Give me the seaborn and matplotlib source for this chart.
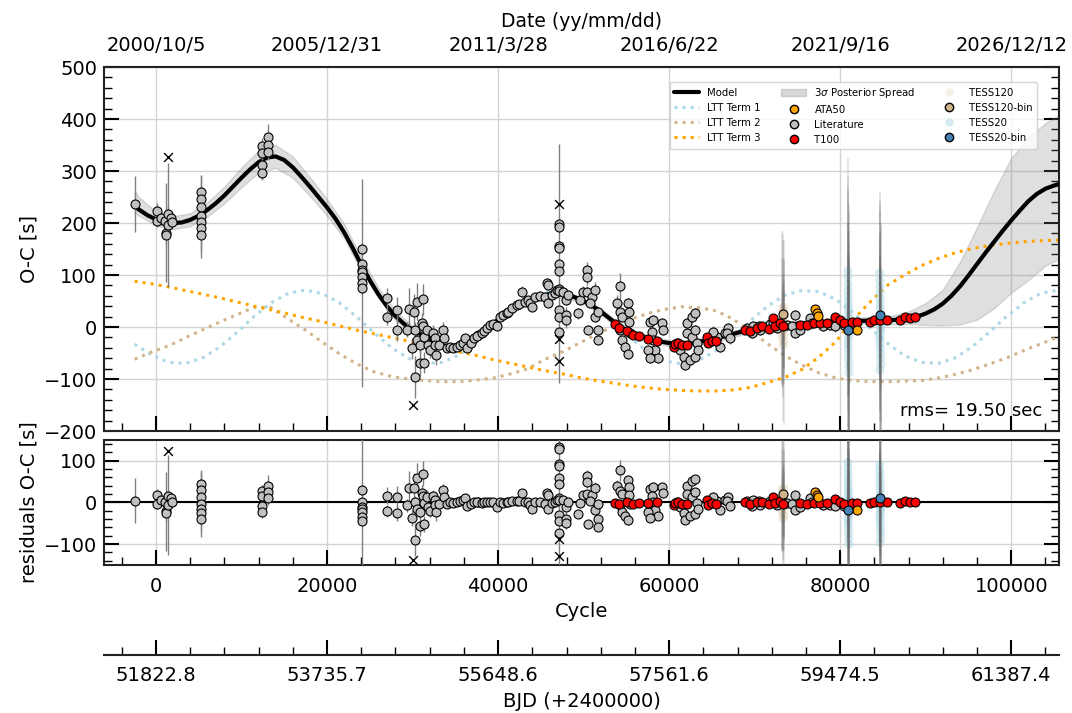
import numpy as np
import seaborn as sns
import matplotlib.pyplot as plt
from matplotlib.lines import Line2D
from matplotlib.patches import Patch
from matplotlib.ticker import MultipleLocator

# ---------------- data ----------------
cycle_ticks = [0, 20000, 40000, 60000, 80000, 100000]
date_labels = ["2000/10/5", "2005/12/31", "2011/3/28", "2016/6/22", "2021/9/16", "2026/12/12"]
bjd_labels = ["51822.8", "53735.7", "55648.6", "57561.6", "59474.5", "61387.4"]

# model curve
model_cycle = [-2500] + list(range(-2000, 105001, 1000)) + [105600]
model_oc = [232, 226, 215, 207, 202, 200, 201, 206, 214, 225, 238, 253, 270, 287, 303, 317,
            326, 328, 321, 307, 289, 270, 250, 230, 208, 182, 152, 120, 90, 63, 40, 21, 6,
            -5, -14, -23, -31, -38, -40, -34, -24, -12, 1, 14, 26, 37, 47, 55, 60, 63, 64,
            62, 57, 50, 41, 30, 17, 4, -6, -13, -19, -24, -28, -31, -32, -32, -30, -27, -24,
            -20, -15, -11, -7, -3, 0, 3, 4, 5, 6, 7, 8, 9, 10, 11, 12, 12, 12, 13, 13, 13,
            15, 17, 20, 26, 34, 45, 60, 78, 99, 121, 143, 164, 185, 205, 224, 242, 256, 266,
            272, 275]

# 3 sigma posterior spread
band_cycle = [-2500, -2000] + list(range(0, 104001, 2000)) + [105600]
band_lo = [220, 214, 195, 188, 194, 212, 238, 269, 297, 306, 287, 252, 214, 170, 108, 56,
           13, -12, -30, -44, -40, -18, 8, 31, 49, 57, 56, 44, 24, -2, -19, -30, -37, -38,
           -33, -26, -17, -9, -4, -1, 1, 3, 5, 6, 6, 5, 6, 4, 3, 5, 14, 36, 66, 90, 118, 131]
band_hi = [262, 250, 222, 213, 219, 240, 270, 307, 339, 350, 328, 288, 246, 198, 134, 76,
           31, 2, -16, -32, -28, -6, 20, 43, 61, 69, 68, 56, 36, 10, -7, -18, -25, -26,
           -21, -14, -5, 3, 8, 11, 13, 15, 17, 18, 20, 22, 30, 46, 72, 125, 192, 262, 325,
           365, 392, 408]

# LTT terms
ltt_cycle = list(range(-2500, 105501, 2000))
ltt1 = [-33, -54, -68, -70, -59, -38, -10, 21, 47, 65, 71, 64, 46, 19, -11, -39, -60, -70,
        -68, -53, -29, 1, 31, 54, 68, 70, 59, 37, 9, -21, -48, -65, -71, -64, -45, -19, 12,
        40, 61, 70, 68, 53, 28, -2, -31, -55, -68, -70, -59, -37, -9, 21, 47, 65, 71]
ltt2 = [-62, -48, -36, -20, -5, 10, 24, 38, 37, 15, -6, -30, -52, -71, -86, -95, -100, -103,
        -105, -105, -102, -98, -90, -80, -62, -48, -31, -14, 1, 15, 26, 34, 39, 37, 31, 15,
        -8, -32, -55, -73, -88, -98, -103, -105, -105, -104, -103, -98, -91, -82, -71, -59,
        -45, -32, -19]
ltt3 = [88, 83, 77, 70, 63, 56, 48, 40, 33, 25, 17, 10, 2, -6, -13, -20, -27, -34, -41, -48,
        -55, -63, -70, -77, -84, -90, -97, -103, -108, -113, -117, -120, -122, -123, -123,
        -121, -116, -107, -97, -82, -58, -28, 14, 48, 80, 100, 118, 132, 143, 151, 157, 161,
        164, 166, 167]

# Literature timings
lit_cycle = [-2460, 80, 80, 585, 1050, 1130, 1130, 1440, 1440, 1700, 1910,
             5230, 5230, 5230, 5230, 5230, 5230, 5230,
             12360, 12360, 13140, 13140, 13140, 12360, 12360,
             24060, 24060, 24060, 24060, 24060, 24060, 24060,
             27050, 27050, 28150, 28150, 29400, 29600, 30200, 30560, 31190, 29900, 30290,
             30880, 31350, 30290, 30490, 30880, 31070, 31270, 31350, 31660, 31850, 32050,
             32440, 32630, 32630, 32750, 33140, 33600, 33680, 34000, 34390, 34780, 35170,
             35560, 35900, 36140, 36340, 36800, 37200, 37600,
             37500, 38090, 38300, 38670, 39060, 39400, 39850, 40230, 40620, 41000, 41210,
             41600, 42190, 42500, 42770, 43160, 43500, 43740, 43940, 44330, 44910, 45500,
             45700, 45880, 45880, 46280, 46670, 46860,
             47170, 47170, 47170, 47170, 47170, 47170, 47170, 47170, 47170, 47170, 47170,
             47640, 47950, 48220, 47950, 47950, 49390, 49590, 49980, 50370, 50370, 50370,
             50960, 50760, 51350, 51350, 50570, 51730, 51730, 51730,
             54270, 53880, 54270, 54460, 54270, 54460, 54850, 55240, 55240, 55360, 55360,
             55440, 57780, 58170, 57970, 58170, 58360, 58750, 59140, 59340, 57580, 57780,
             62070, 62650, 63040, 62070, 62650, 63040, 63240, 61290, 61680, 61870, 62460,
             63040, 63430, 60900, 65580, 65960, 66550, 66940, 65180,
             66740, 67130, 69080, 69670, 69860, 70450, 70640, 71800, 72100, 72600, 73760,
             74350, 74740, 74740, 75320, 76490, 76690, 78000, 78830, 79410, 80500]
lit_oc = [236, 224, 204, 209, 203, 181, 177, 217, 196, 210, 201,
          260, 247, 230, 213, 201, 190, 177,
          348, 335, 366, 350, 336, 311, 297,
          150, 121, 110, 105, 96, 85, 75,
          55, 19, 33, -6, -5, 35, 28, 49, 53, -41, -96,
          -69, -69, -6, -25, -35, 7, 1, -19, -6, -35, -44,
          -12, -22, -35, -54, -35, -6, -22, -41, -38, -41, -39,
          -35, -30, -22, -41, -31, -22, -16,
          -18, -12, -8, -2, 4, 6, 1, 19, 23, 27, 29,
          36, 42, 45, 68, 49, 52, 47, 39, 58, 60, 58,
          84, 81, 47, 62, 65, 71,
          198, 193, 156, 151, 122, 108, 74, 70, 33, 20, -9,
          68, 52, 62, 23, 13, 26, 52, 68, 110, 96, 68,
          58, 46, 71, 20, -6, -6, -25, 29,
          78, 46, 29, 20, -6, -25, -38, -51, 46, 29, 10,
          -12, 10, 13, -9, -25, -44, -60, 7, -6, -44, -60,
          7, 20, 26, -12, -19, -6, -31, -44, -57, -73, -63,
          -57, -44, -31, -19, -38, -12, -2, -9,
          -12, -22, -2, -12, 1, 1, -6, 5, 10, -2, 4,
          1, 23, -12, -6, 17, 7, 2, 4, 1, 3]
lit_err = [54, 15, 12, 12, 15, 95, 20, 15, 120, 12, 12,
           30, 25, 20, 80, 20, 20, 30,
           15, 15, 25, 15, 15, 25, 15,
           12, 12, 12, 12, 12, 200, 12,
           20, 15, 25, 20, 15, 40, 35, 35, 30, 20, 40,
           25, 20, 15, 15, 15, 20, 15, 15, 15, 15, 15,
           15, 15, 10, 20, 10, 15, 10, 5, 5, 5, 5,
           5, 5, 5, 5, 5, 5, 5,
           5, 5, 5, 5, 5, 5, 5, 5, 5, 5, 5,
           5, 5, 5, 10, 5, 5, 5, 5, 5, 5, 5,
           10, 10, 5, 5, 5, 5,
           10, 10, 10, 10, 230, 10, 10, 10, 10, 10, 10,
           10, 10, 10, 15, 15, 10, 10, 10, 15, 15, 10,
           10, 10, 15, 10, 10, 10, 10, 10,
           25, 15, 10, 10, 10, 10, 10, 10, 10, 10, 10,
           10, 10, 10, 10, 10, 10, 10, 10, 10, 10, 10,
           10, 10, 10, 10, 10, 10, 10, 10, 10, 10, 10,
           10, 10, 10, 10, 10, 10, 10, 10,
           10, 10, 10, 10, 10, 10, 10, 10, 10, 10, 10,
           10, 10, 10, 10, 10, 10, 10, 10, 10, 10]
lit_res = [4, 17, -3, 5, 1, -21, -25, 16, -5, 10, 1,
           44, 31, 14, -3, -15, -26, -39,
           28, 15, 40, 24, 10, -9, -23,
           30, 1, -10, -15, -24, -35, -45,
           16, -20, 14, -25, -7, 35, 35, 59, 69, -37, -89,
           -56, -52, 1, -16, -22, 22, 16, -2, 14, -10, -20,
           15, 7, -6, -24, -3, 29, 13, -3, 1, -1, 0,
           3, 5, 11, -9, -4, 0, 1,
           0, -1, 1, 1, 2, 0, -11, 2, -2, 1, 1,
           3, 3, 3, 23, 0, 1, -6, -15, 1, 0, -4,
           22, 18, -16, -1, 1, 7,
           134, 129, 92, 87, 58, 44, 10, 6, -31, -44, -73,
           5, -10, 1, -39, -49, -28, -1, 18, 63, 49, 21,
           17, 3, 34, -17, -51, -39, -58, -4,
           77, 40, 28, 21, -7, -24, -33, -43, 54, 37, 18,
           -3, 33, 38, 15, 0, -19, -33, 36, 23, -22, -37,
           39, 51, 56, 20, 12, 24, -2, -12, -25, -41, -32,
           -27, -15, 1, 3, -18, 5, 13, 14,
           4, -8, 4, -8, 5, 3, -5, 3, 7, -6, -1,
           -4, 17, -18, -12, 10, 0, -7, -6, -9, -8]

# masked literature points (crosses)
out_cycle = [1440, 30100, 47170, 47170, 47170]
out_oc = [326, -150, 237, -24, -65]
out_res = [124, -138, 173, -88, -129]

# T100
t100_cycle = [53680, 54190, 55120, 55750, 56530, 57580, 58630, 60510, 60700, 61090, 61480,
              62070, 64410, 64600, 64990, 65500, 68890, 69470, 70250, 70840, 71620, 72200,
              72400, 72980, 73370, 75320, 76100, 76880, 77660, 78440, 79410, 80000, 80390,
              81370, 81950, 83430, 83900, 84680, 85460, 87020, 87600, 88190, 88770]
t100_oc = [6, -1, -7, -15, -17, -24, -26, -38, -33, -30, -35, -35, -20, -31, -26, -26, -6, -8,
           -1, 1, -3, 17, 1, 7, 1, 4, 4, 7, 7, 7, 20, 13, 7, 10, 10, 10, 13, 13, 13, 13, 20,
           17, 19]
t100_res = [-2, -3, 0, -4, -1, -2, 0, -7, -1, 2, -3, -3, 6, -6, -2, -4, 1, -3, 1, 1, -4, 14,
            -2, 3, -3, -2, -3, -1, -1, -2, 9, 2, -4, -2, -2, -2, 0, 0, 0, -2, 4, 0, 0]

# ATA50
ata_cycle = [77080, 77300, 77460, 81950]
ata_oc = [34, 27, 21, -6]
ata_res = [26, 19, 13, -18]

# TESS120 and its bin
t120_cycle = [73200, 73220, 73240, 73260, 73280, 73300, 73320, 73340, 73360, 73380, 73400,
              73420, 73440, 73460, 73480]
t120_oc = [12, -20, 35, 5, -8, 28, -35, 18, 0, -15, 38, 8, -28, 22, -3]
t120_err = [120, 90, 150, 80, 110, 140, 100, 70, 180, 95, 130, 85, 160, 105, 75]
t120_res = [8, -24, 31, 1, -12, 24, -39, 14, -4, -19, 34, 4, -32, 18, -7]
t120bin_cycle = [73290]
t120bin_oc = [25]
t120bin_res = [21]

# TESS20 (two sectors) and bins
t20_cycle = [80900, 80910, 80920, 80930, 80940, 80950, 80960, 80970, 80980, 80990, 81000,
             81010, 81020, 81030, 81040, 80905, 80925, 80945, 80965, 80985, 81005, 81025,
             84620, 84630, 84640, 84650, 84660, 84670, 84680, 84690, 84700, 84710, 84720,
             84730, 84740, 84625, 84645, 84665, 84685, 84705, 84725, 84735, 84655, 84695]
t20_oc = [108, 95, 82, 70, 60, 50, 41, 33, 25, 18, 11, 4, -3, -10, -17, -25, -33, -42, -52,
          -63, -75, -88,
          104, 90, 78, 66, 55, 45, 36, 28, 20, 13, 6, -1, -8, -15, -23, -31, -40, -50, -60,
          -72, -83, 2]
t20_err = [150, 230, 120, 200, 140, 90, 250, 110, 160, 70, 210, 130, 240, 100, 180, 60, 220,
           120, 140, 190, 160, 230,
           120, 170, 100, 180, 130, 80, 200, 110, 150, 70, 190, 120, 210, 90, 160, 60, 180,
           110, 140, 170, 210, 100]
t20_res = [96, 83, 70, 58, 48, 38, 29, 21, 13, 6, -1, -8, -15, -22, -29, -37, -45, -54, -64,
           -75, -87, -100,
           91, 77, 65, 53, 42, 32, 23, 15, 7, 0, -7, -14, -21, -28, -36, -44, -53, -63, -73,
           -85, -96, -11]
t20bin_cycle = [80970, 84680]
t20bin_oc = [-6, 23]
t20bin_res = [-18, 10]

rms_text = "rms= 19.50 sec"

# ---------------- figure ----------------
sns.set_theme(style="ticks")
plt.rcParams['font.family'] = ['DejaVu Sans']
plt.rcParams['mathtext.fontset'] = 'dejavusans'
plt.rcParams['text.color'] = 'black'
plt.rcParams['axes.labelcolor'] = 'black'

fig = plt.figure(figsize=(10.72, 7.13), dpi=100)
ax1 = fig.add_axes([0.097, 0.3955, 0.891, 0.5105])
ax2 = fig.add_axes([0.097, 0.2076, 0.891, 0.1754])

XMIN, XMAX = -6080, 105600
GREY_BAR = 'gray'
pt = dict(s=42, edgecolor='black', linewidth=0.8, legend=False)

# top panel
ax1.fill_between(band_cycle, band_lo, band_hi, color='gray', alpha=0.25, lw=1, zorder=1)
sns.lineplot(x=ltt_cycle, y=ltt1, ax=ax1, color='lightblue', ls=':', lw=2.2, zorder=2)
sns.lineplot(x=ltt_cycle, y=ltt2, ax=ax1, color='tan', ls=':', lw=2.2, zorder=2)
sns.lineplot(x=ltt_cycle, y=ltt3, ax=ax1, color='orange', ls=':', lw=2.2, zorder=2)
sns.lineplot(x=model_cycle, y=model_oc, ax=ax1, color='black', lw=3, zorder=3)


def draw_points(ax, lit_y, out_y, t100_y, ata_y, t120_y, t120b_y, t20_y, t20b_y):
    ax.errorbar(lit_cycle, lit_y, yerr=lit_err, fmt='none', ecolor=GREY_BAR, elinewidth=1, zorder=4)
    sns.scatterplot(x=t120_cycle, y=t120_y, ax=ax, color='tan', alpha=0.25, s=42,
                    edgecolor='none', legend=False, zorder=4)
    sns.scatterplot(x=t20_cycle, y=t20_y, ax=ax, color='lightblue', alpha=0.5, s=42,
                    edgecolor='none', legend=False, zorder=4)
    ax.errorbar(t120_cycle, t120_y, yerr=t120_err, fmt='none', ecolor='dimgray',
                elinewidth=1.3, alpha=0.18, zorder=4.5)
    ax.errorbar(t20_cycle, t20_y, yerr=t20_err, fmt='none', ecolor='dimgray',
                elinewidth=1.3, alpha=0.18, zorder=4.5)
    sns.scatterplot(x=lit_cycle, y=lit_y, ax=ax, color='silver', zorder=5, **pt)
    sns.scatterplot(x=out_cycle, y=out_y, ax=ax, marker='x', color='black', s=40,
                    linewidth=1, legend=False, zorder=5)
    sns.scatterplot(x=t100_cycle, y=t100_y, ax=ax, color='red', zorder=6, **pt)
    sns.scatterplot(x=ata_cycle, y=ata_y, ax=ax, color='orange', zorder=6, **pt)
    sns.scatterplot(x=t120bin_cycle, y=t120b_y, ax=ax, color='tan', zorder=7, **pt)
    sns.scatterplot(x=t20bin_cycle, y=t20b_y, ax=ax, color='steelblue', zorder=7, **pt)


draw_points(ax1, lit_oc, out_oc, t100_oc, ata_oc, t120_oc, t120bin_oc, t20_oc, t20bin_oc)
draw_points(ax2, lit_res, out_res, t100_res, ata_res, t120_res, t120bin_res, t20_res, t20bin_res)
ax2.axhline(0, color='black', lw=1.5, zorder=3)

ax1.text(0.982, 0.03, rms_text, transform=ax1.transAxes, ha='right', va='bottom', fontsize=13)

for ax in (ax1, ax2):
    ax.set_xlim(XMIN, XMAX)
    ax.xaxis.set_major_locator(MultipleLocator(20000))
    ax.xaxis.set_minor_locator(MultipleLocator(4000))
    ax.yaxis.set_minor_locator(MultipleLocator(20))
    ax.yaxis.set_major_locator(MultipleLocator(100))
    ax.tick_params(which='both', direction='in', left=True, right=True, top=True, bottom=True,
                   labelsize=14, colors='black')
    ax.tick_params(which='major', length=11, width=1.5)
    ax.tick_params(which='minor', length=5.5, width=1)
    ax.tick_params(axis='x', pad=9)
    ax.tick_params(axis='y', pad=5)
    ax.grid(True, which='major', color='#d3d3d3', lw=1)
    ax.set_axisbelow(True)
    for sp in ax.spines.values():
        sp.set_linewidth(1.5)
        sp.set_color('#222222')

ax1.set_ylim(-200, 500)
ax1.tick_params(labelbottom=False)
ax1.set_ylabel("O-C [s]", fontsize=14)
ax2.set_ylim(-150, 150)
ax2.set_ylabel("residuals O-C [s]", fontsize=14)
ax2.set_xlabel("Cycle", fontsize=14, labelpad=4)

# legend
handles = [
    Line2D([], [], color='black', lw=3),
    Line2D([], [], color='lightblue', ls=':', lw=2.2),
    Line2D([], [], color='tan', ls=':', lw=2.2),
    Line2D([], [], color='orange', ls=':', lw=2.2),
    Patch(facecolor='gray', alpha=0.3, edgecolor='gray'),
    Line2D([], [], ls='', marker='o', mfc='orange', mec='black', ms=6),
    Line2D([], [], ls='', marker='o', mfc='silver', mec='black', ms=6),
    Line2D([], [], ls='', marker='o', mfc='red', mec='black', ms=6),
    Line2D([], [], ls='', marker='o', mfc='tan', mec='none', ms=6, alpha=0.2),
    Line2D([], [], ls='', marker='o', mfc='tan', mec='black', ms=6),
    Line2D([], [], ls='', marker='o', mfc='lightblue', mec='none', ms=6, alpha=0.5),
    Line2D([], [], ls='', marker='o', mfc='steelblue', mec='black', ms=6),
]
labels = ["Model", "LTT Term 1", "LTT Term 2", "LTT Term 3",
          "3$\\sigma$ Posterior Spread", "ATA50", "Literature", "T100",
          "TESS120", "TESS120-bin", "TESS20", "TESS20-bin"]
ax1.legend(handles, labels, ncol=3, fontsize=7.3, loc='upper right',
           bbox_to_anchor=(0.977, 0.96), borderaxespad=0, handlelength=2.5,
           columnspacing=2.0)

# top date axis
ax_top = ax1.twiny()
ax_top.set_xlim(XMIN, XMAX)
ax_top.set_xticks(cycle_ticks, labels=date_labels)
ax_top.tick_params(axis='x', length=0, pad=9, labelsize=14, colors='black')
ax_top.set_xlabel("Date (yy/mm/dd)", fontsize=13.5, labelpad=6)
ax_top.grid(False)
for sp in ax_top.spines.values():
    sp.set_visible(False)

# BJD axis below
ax3 = ax2.twiny()
ax3.set_xlim(XMIN, XMAX)
ax3.xaxis.set_ticks_position('bottom')
ax3.xaxis.set_label_position('bottom')
ax3.spines['bottom'].set_position(('outward', 65))
for name in ('top', 'left', 'right'):
    ax3.spines[name].set_visible(False)
ax3.spines['bottom'].set_linewidth(1.5)
ax3.spines['bottom'].set_color('#222222')
ax3.set_xticks(cycle_ticks, labels=bjd_labels)
ax3.xaxis.set_minor_locator(MultipleLocator(4000))
ax3.tick_params(which='both', direction='in', labelsize=14, pad=8, colors='black')
ax3.tick_params(which='major', length=11, width=1.5)
ax3.tick_params(which='minor', length=5.5, width=1)
ax3.set_xlabel("BJD (+2400000)", fontsize=14, labelpad=5)
ax3.grid(False)

fig.savefig("out.png", dpi=100)
